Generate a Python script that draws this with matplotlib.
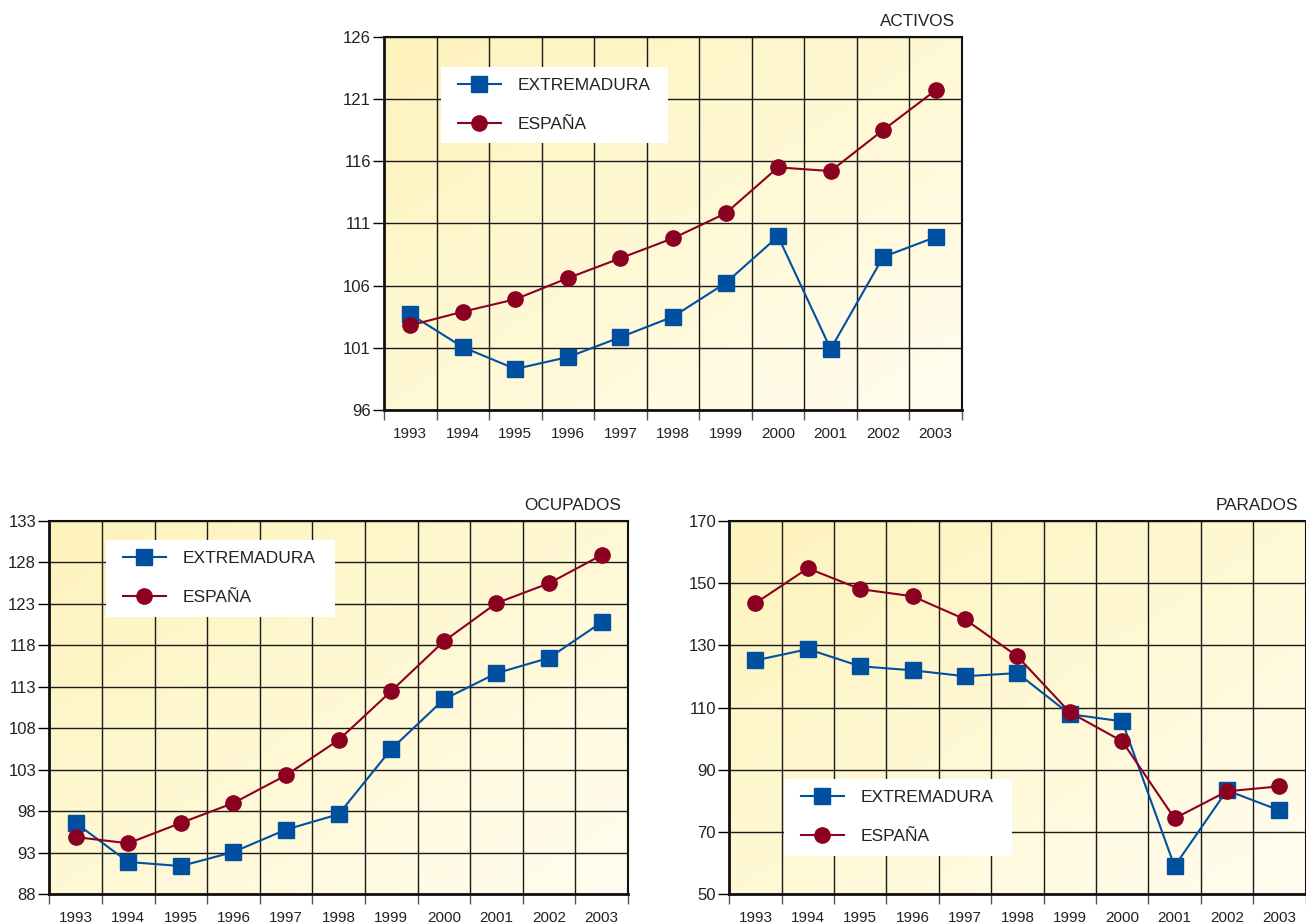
import numpy as np
import matplotlib.pyplot as plt
from matplotlib.colors import LinearSegmentedColormap
from matplotlib.patches import Rectangle

years = ['1993', '1994', '1995', '1996', '1997', '1998', '1999', '2000', '2001', '2002', '2003']

activos_ext = [103.7, 101.05, 99.3, 100.25, 101.85, 103.5, 106.2, 109.95, 100.9, 108.3, 109.9]
activos_esp = [102.8, 103.9, 104.9, 106.6, 108.2, 109.8, 111.8, 115.5, 115.2, 118.5, 121.7]

ocupados_ext = [96.6, 91.9, 91.4, 93.1, 95.8, 97.65, 105.5, 111.5, 114.65, 116.5, 120.8]
ocupados_esp = [94.9, 94.15, 96.6, 99.0, 102.35, 106.6, 112.5, 118.5, 123.1, 125.5, 128.9]

parados_ext = [125.2, 128.8, 123.3, 122.0, 120.1, 121.1, 107.9, 105.6, 59.0, 83.4, 77.0]
parados_esp = [143.6, 154.8, 148.1, 145.8, 138.4, 126.5, 108.5, 99.2, 74.4, 83.1, 84.7]

plt.rcParams['font.family'] = ['Liberation Sans', 'DejaVu Sans']
BLUE = '#00509f'
RED = '#8c0022'
TXT = '#222222'
W, H = 1306, 923

bg = LinearSegmentedColormap.from_list('bg', ['#fef3bc', '#fff8d4', '#fffdf0'])
gx, gy = np.meshgrid(np.linspace(0, 1, 200), np.linspace(0, 1, 200))
grad = (gx + gy) / 2

fig = plt.figure(figsize=(W / 100, H / 100), dpi=100)


def panel(box, title, ext, esp, yticks, leg_box):
    # box / leg_box: (left, top, right, bottom) in pixels
    l, t, r, b = box
    ax = fig.add_axes([l / W, (H - b) / H, (r - l) / W, (b - t) / H])
    aw, ah = r - l, b - t
    x = np.arange(len(years))
    ax.imshow(grad, cmap=bg, extent=[0, 1, 0, 1], transform=ax.transAxes,
              aspect='auto', zorder=0, origin='upper')
    ax.plot(x, ext, color=BLUE, lw=1.5, marker='s', ms=11, mec=BLUE, label='EXTREMADURA', zorder=3)
    ax.plot(x, esp, color=RED, lw=1.5, marker='o', ms=11, mec=RED, label='ESPAÑA', zorder=3)
    ax.set_xlim(-0.5, len(years) - 0.5)
    ax.set_ylim(yticks[0], yticks[-1])
    ax.set_yticks(yticks)
    ax.set_xticks(x)
    ax.set_xticklabels(years)
    ax.set_xticks(np.arange(-0.5, len(years)), minor=True)
    ax.tick_params(axis='x', which='major', length=0, pad=12, labelsize=11, labelcolor=TXT)
    ax.tick_params(axis='x', which='minor', length=7, width=1, color='#555555')
    ax.tick_params(axis='y', length=8, width=1, labelsize=12, labelcolor=TXT, pad=1.5)
    ax.grid(True, axis='y', which='major', color='#1a1a1a', lw=1)
    ax.grid(True, axis='x', which='minor', color='#1a1a1a', lw=1)
    ax.grid(False, axis='x', which='major')
    for s in ['left', 'bottom']:
        ax.spines[s].set_linewidth(2)
    for s in ['top', 'right']:
        ax.spines[s].set_linewidth(1.5)
    for s in ax.spines.values():
        s.set_color('#111111')
    ax.text(1 - 7 / aw, 1 + 8 / ah, title, transform=ax.transAxes, ha='right', va='bottom',
            fontsize=12.3, color=TXT)
    # legend box
    ll, lt, lr, lb = leg_box
    ax.add_patch(Rectangle(((ll - l) / aw, (b - lb) / ah), (lr - ll) / aw, (lb - lt) / ah,
                           transform=ax.transAxes, facecolor='white', edgecolor='none', zorder=4))
    leg = ax.legend(loc='upper left', bbox_to_anchor=((ll + 17 - l) / aw, (b - lt - 11) / ah),
                    frameon=False, fontsize=12.5, labelspacing=1.35,
                    handlelength=2.45, handletextpad=1.0, borderpad=0,
                    borderaxespad=0, labelcolor=TXT)
    leg.set_zorder(5)
    return ax


panel((384, 36.7, 962, 410), 'ACTIVOS', activos_ext, activos_esp,
      [96, 101, 106, 111, 116, 121, 126], (441, 67, 668, 143))
panel((49.3, 521, 628, 894.3), 'OCUPADOS', ocupados_ext, ocupados_esp,
      [88, 93, 98, 103, 108, 113, 118, 123, 128, 133], (106, 540, 335, 617))
panel((729.3, 521, 1305.5, 894.3), 'PARADOS', parados_ext, parados_esp,
      [50, 70, 90, 110, 130, 150, 170], (784, 779, 1012, 856))

fig.savefig('out.png', dpi=100)
